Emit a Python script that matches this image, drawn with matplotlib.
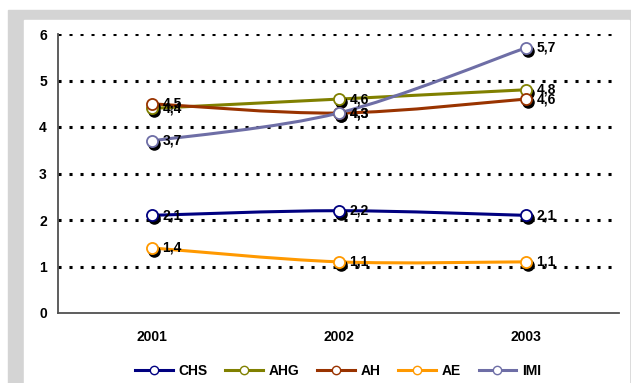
import numpy as np
import matplotlib
matplotlib.use("Agg")
import matplotlib.pyplot as plt
from matplotlib.path import Path
from matplotlib.patches import PathPatch, Rectangle
from matplotlib.lines import Line2D
import matplotlib.transforms as mtransforms

plt.rcParams['font.family'] = ['Liberation Sans', 'DejaVu Sans']

years = ['2001', '2002', '2003']
names = ['CHS', 'AHG', 'AH', 'AE', 'IMI']
chs = [2.1, 2.2, 2.1]
ahg = [4.4, 4.6, 4.8]
ah = [4.5, 4.3, 4.6]
ae = [1.4, 1.1, 1.1]
imi = [3.7, 4.3, 5.7]
series = [chs, ahg, ah, ae, imi]
colors = ['#000080', '#808000', '#993300', '#FF9900', '#6E6EA6']
yticks = [0, 1, 2, 3, 4, 5, 6]


def smooth_path(xs, ys):
    # excel-like smoothed line as cubic bezier segments
    pts = np.column_stack([xs, ys]).astype(float)
    n = len(pts)
    verts = [pts[0]]
    codes = [Path.MOVETO]
    for i in range(n - 1):
        p0 = pts[max(i - 1, 0)]
        p1 = pts[i]
        p2 = pts[i + 1]
        p3 = pts[min(i + 2, n - 1)]
        c1 = p1 + (p2 - p0) / 6.0
        c2 = p2 - (p3 - p1) / 6.0
        verts += [c1, c2, p2]
        codes += [Path.CURVE4] * 3
    return Path(verts, codes)


fig = plt.figure(figsize=(6.31, 3.83), dpi=100)
W, H = 631, 383
fig.patches.append(Rectangle((8 / W, 0), 1 - 8 / W, 1 - 10 / H,
                             transform=fig.transFigure, color='#d4d4d4', zorder=-2))
fig.patches.append(Rectangle((24 / W, 0), 605 / W, 1 - 20 / H,
                             transform=fig.transFigure, color='white', zorder=-1))

ax = fig.add_axes([58 / W, 1 - 313 / H, 561 / W, 279 / H])
ax.patch.set_alpha(0)
x = np.arange(len(years))
ax.set_xlim(-0.5, len(years) - 0.5)
ax.set_ylim(0, 6)

for t in yticks[1:]:
    ax.axhline(t, color='black', lw=2.2, ls=(0, (1, 2.6)), zorder=1)

shadow = mtransforms.offset_copy(ax.transData, fig=fig, x=2, y=-3, units='dots')
for vals, c in zip(series, colors):
    ax.add_patch(PathPatch(smooth_path(x, vals), fill=False, edgecolor=c, lw=2.2, zorder=3))
    ax.plot(x, vals, ls='none', marker='o', ms=8, color='black', transform=shadow, zorder=4)
    ax.plot(x, vals, ls='none', marker='o', ms=8, mfc='white', mec=c, mew=1.3, zorder=5)
    for xi, v in zip(x, vals):
        ax.annotate(f'{v:.1f}'.replace('.', ','), (xi, v), xytext=(8, 0),
                    textcoords='offset points', va='center', ha='left',
                    family=['Liberation Sans Narrow', 'Liberation Sans'],
                    fontsize=10, fontweight='bold', zorder=6)

ax.set_xticks(x)
ax.set_xticklabels(years, fontsize=10, fontweight='bold')
ax.set_yticks(yticks)
ax.set_yticklabels([str(t) for t in yticks], fontsize=10, fontweight='bold')
ax.tick_params(axis='x', length=0, pad=12)
ax.tick_params(axis='y', length=0, pad=8)
for s in ['top', 'right']:
    ax.spines[s].set_visible(False)
ax.spines['left'].set_color('#505050')
ax.spines['bottom'].set_color('#505050')
ax.spines['left'].set_linewidth(1.3)
ax.spines['bottom'].set_linewidth(1.3)

handles = [Line2D([], [], color=c, lw=2.2, marker='o', ms=6, mfc='white', mec=c)
           for c in colors]
fig.legend(handles, names, loc='center', bbox_to_anchor=(338 / W, 1 - 371 / H),
           ncol=5, frameon=False, handlelength=2.7, handletextpad=0.4,
           columnspacing=1.3, prop={'weight': 'bold', 'size': 10})

fig.savefig('out.png', dpi=100)
